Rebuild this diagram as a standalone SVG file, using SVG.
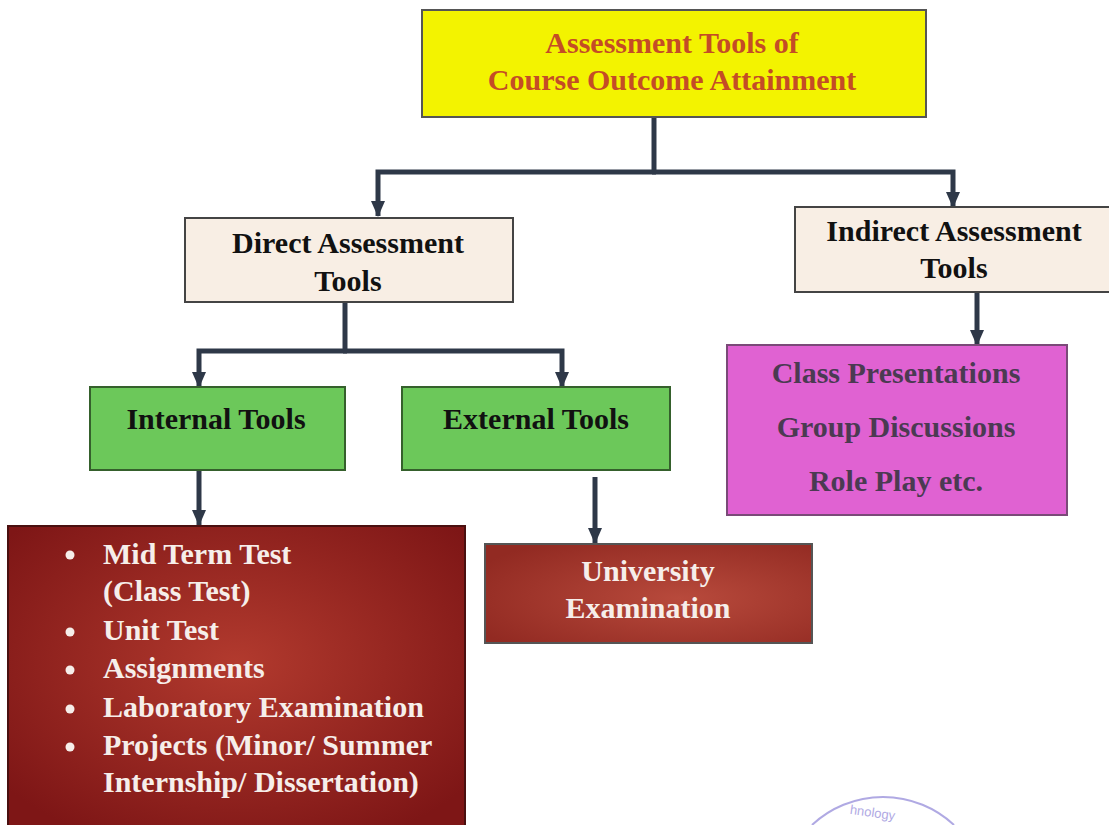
<svg xmlns="http://www.w3.org/2000/svg" width="1109" height="825" viewBox="0 0 1109 825">
<defs>
<style>
.t{font-family:"Liberation Serif","Times New Roman",serif;font-weight:bold;}
.c{text-anchor:middle;}
.conn{fill:none;stroke:#2e3848;stroke-width:5;stroke-linejoin:miter;}
.blk{fill:#111;font-size:30px;}
.wht{fill:#f6eeea;font-size:30px;}
.mag{fill:#4b3a52;font-size:30px;}
</style>
<marker id="arr" viewBox="0 0 16 14" refX="15" refY="7" markerWidth="16" markerHeight="14" markerUnits="userSpaceOnUse" orient="auto">
<path d="M0,0 L16,7 L0,14 z" fill="#2e3848"/>
</marker>
<radialGradient id="redg" cx="50%" cy="45%" r="65%">
<stop offset="0" stop-color="#b23a2e"/>
<stop offset="1" stop-color="#7e1616"/>
</radialGradient>
<radialGradient id="redg2" cx="60%" cy="55%" r="70%">
<stop offset="0" stop-color="#b84a3c"/>
<stop offset="1" stop-color="#922a22"/>
</radialGradient>
</defs>
<rect width="1109" height="825" fill="#ffffff"/>

<g id="connectors">
<path class="conn" d="M654,117 V172"/>
<path class="conn" d="M656,172 H378 V216" marker-end="url(#arr)"/>
<path class="conn" d="M652,172 H953 V207" marker-end="url(#arr)"/>
<path class="conn" d="M345,302 V351"/>
<path class="conn" d="M347,351 H199 V387" marker-end="url(#arr)"/>
<path class="conn" d="M343,351 H562 V387" marker-end="url(#arr)"/>
<path class="conn" d="M199,470 V525" marker-end="url(#arr)"/>
<path class="conn" d="M595,477 V543" marker-end="url(#arr)"/>
<path class="conn" d="M977,292 V345" marker-end="url(#arr)"/>
</g>

<g id="root">
<rect x="422" y="10" width="504" height="107" fill="#f3f300" stroke="#555" stroke-width="2"/>
<text class="t c" x="672" y="53" font-size="30" fill="#c44c26">Assessment Tools of</text>
<text class="t c" x="672" y="90" font-size="30" fill="#c44c26">Course Outcome Attainment</text>
</g>

<g id="direct">
<rect x="185" y="218" width="328" height="84" fill="#f8eee4" stroke="#444" stroke-width="2"/>
<text class="t c blk" x="348" y="253">Direct Assessment</text>
<text class="t c blk" x="348" y="291">Tools</text>
</g>

<g id="indirect">
<rect x="795" y="207" width="320" height="85" fill="#f8eee4" stroke="#444" stroke-width="2"/>
<text class="t c blk" x="954" y="241">Indirect Assessment</text>
<text class="t c blk" x="954" y="278">Tools</text>
</g>

<g id="internal">
<rect x="90" y="387" width="255" height="83" fill="#6cc85a" stroke="#35602c" stroke-width="2"/>
<text class="t c blk" x="216" y="429">Internal Tools</text>
</g>

<g id="external">
<rect x="402" y="387" width="268" height="83" fill="#6cc85a" stroke="#35602c" stroke-width="2"/>
<text class="t c blk" x="536" y="429">External Tools</text>
</g>

<g id="indirect-list">
<rect x="727" y="345" width="340" height="170" fill="#e062d2" stroke="#7a4a78" stroke-width="2"/>
<text class="t c mag" x="896" y="383">Class Presentations</text>
<text class="t c mag" x="896" y="437">Group Discussions</text>
<text class="t c mag" x="896" y="491">Role Play etc.</text>
</g>

<g id="internal-list">
<rect x="8" y="526" width="457" height="304" fill="url(#redg)" stroke="#4a1010" stroke-width="2"/>
<g fill="#f6eeea">
<circle cx="70" cy="555" r="4.5"/>
<circle cx="70" cy="632" r="4.5"/>
<circle cx="70" cy="670" r="4.5"/>
<circle cx="70" cy="709" r="4.5"/>
<circle cx="70" cy="747" r="4.5"/>
</g>
<text class="t wht" x="103" y="564">Mid Term Test</text>
<text class="t wht" x="103" y="601">(Class Test)</text>
<text class="t wht" x="103" y="640">Unit Test</text>
<text class="t wht" x="103" y="678">Assignments</text>
<text class="t wht" x="103" y="717">Laboratory Examination</text>
<text class="t wht" x="103" y="755">Projects (Minor/ Summer</text>
<text class="t wht" x="103" y="792">Internship/ Dissertation)</text>
</g>

<g id="external-list">
<rect x="485" y="544" width="327" height="99" fill="url(#redg2)" stroke="#555" stroke-width="2"/>
<text class="t c wht" x="648" y="581">University</text>
<text class="t c wht" x="648" y="618">Examination</text>
</g>

<g id="stamp" opacity="0.7">
<path d="M812,825 A104,104 0 0 1 954,825" fill="none" stroke="#8f86d8" stroke-width="2"/>
<text x="850" y="818" font-family="Liberation Sans, sans-serif" font-size="13" fill="#8f86d8" transform="rotate(8 880 812)">hnology</text>
</g>
</svg>
